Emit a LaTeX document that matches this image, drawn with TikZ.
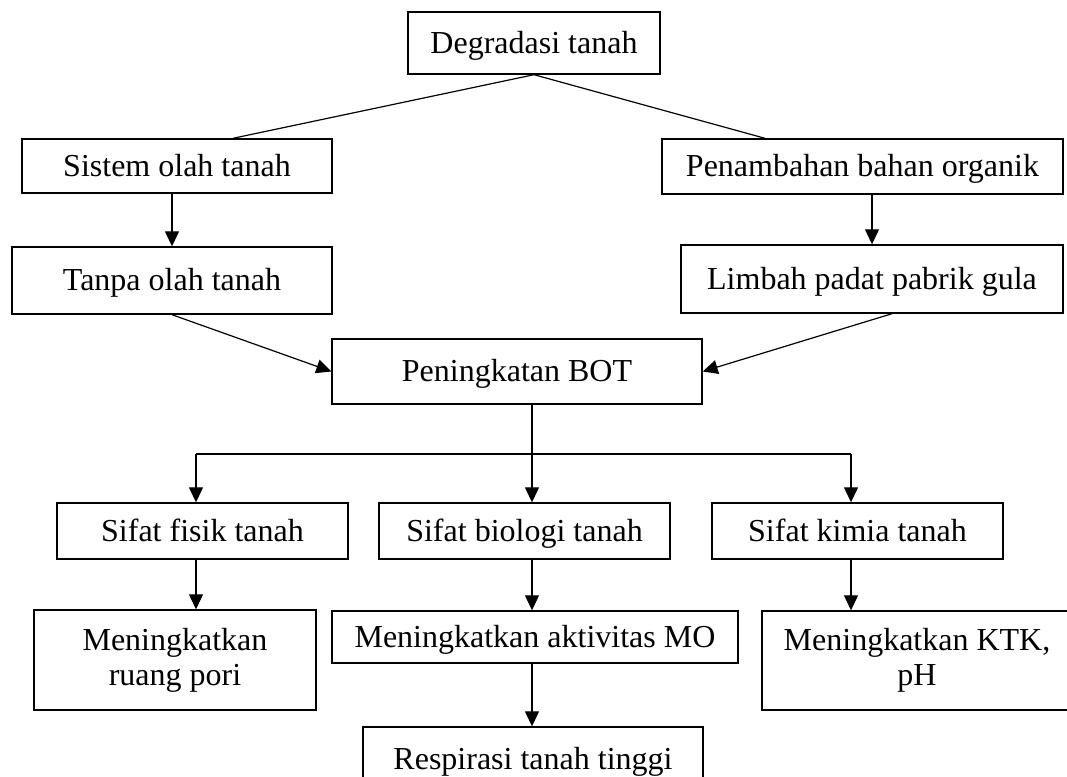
\documentclass[tikz,border=0pt]{standalone}
\usepackage{fontspec}
\setmainfont{Liberation Serif}
\usepackage{tikz}
\usetikzlibrary{arrows.meta,positioning,calc}

\begin{document}
\begin{tikzpicture}[
  x=1pt,y=-1pt,
  boxstyle/.style={rectangle,draw,line width=1.4pt,inner sep=0pt,anchor=center,font={\fontsize{32}{35}\selectfont},text height=22pt,text depth=2pt},
  twostyle/.style={rectangle,draw,line width=1.4pt,inner sep=0pt,anchor=center,font={\fontsize{32}{35}\selectfont},align=center},
  linestyle/.style={line width=1.2pt},
  arrstyle/.style={line width=1.2pt,-{Triangle[length=15pt,width=14pt]}}
]
\useasboundingbox (0,0) rectangle (1067,776) ;
\clip (0,0) rectangle (1067,776) ;

\node [boxstyle,minimum width=252pt,minimum height=62pt] (deg) at (534,43) {Degradasi tanah} ;
\node [boxstyle,minimum width=310pt,minimum height=54pt] (sistem) at (177,166) {Sistem olah tanah} ;
\node [boxstyle,minimum width=320pt,minimum height=67pt] (tanpa) at (172,280.5) {Tanpa olah tanah} ;
\node [boxstyle,minimum width=401pt,minimum height=55pt] (tambah) at (862.5,166.5) {Penambahan bahan organik} ;
\node [boxstyle,minimum width=382pt,minimum height=68pt] (limbah) at (872,279) {Limbah padat pabrik gula} ;
\node [boxstyle,minimum width=370pt,minimum height=65pt] (bot) at (517,371.5) {Peningkatan BOT} ;

\node [boxstyle,minimum width=291pt,minimum height=56pt] (fisik) at (202.5,531) {Sifat fisik tanah} ;
\node [boxstyle,minimum width=291pt,minimum height=56pt] (biologi) at (524.5,531) {Sifat biologi tanah} ;
\node [boxstyle,minimum width=291pt,minimum height=56pt] (kimia) at (857.5,531) {Sifat kimia tanah} ;

\node [twostyle,minimum width=282pt,minimum height=100pt] (pori) at (175,660) {Meningkatkan\\ruang pori} ;
\node [boxstyle,minimum width=406pt,minimum height=52pt] (mo) at (535,637) {Meningkatkan aktivitas MO} ;
\node [twostyle,minimum width=310pt,minimum height=99pt] (ktk) at (917,660.5) {Meningkatkan KTK,\\pH} ;
\node [boxstyle,minimum width=340pt,minimum height=65pt] (resp) at (533,759.5) {Respirasi tanah tinggi} ;

\coordinate (split) at (532,454) ;
\coordinate (hl) at (196,454) ;
\coordinate (hr) at (851,454) ;

\draw [linestyle] (deg.south) -- ($(sistem.north)+(56,0)$) ;
\draw [linestyle] (deg.south) -- ($(tambah.north)+(-97.5,0)$) ;
\draw [arrstyle] (sistem.south -| tanpa.north) -- (tanpa.north) ;
\draw [arrstyle] (tambah.south -| limbah.north) -- (limbah.north) ;
\draw [arrstyle] (tanpa.south) -- (bot.west) ;
\draw [arrstyle] ($(limbah.south)+(20,0)$) -- (bot.east) ;

\draw [linestyle] (split |- bot.south) -- (split) ;
\draw [linestyle] (hl) -- (hr) ;
\draw [arrstyle] (hl) -- (hl |- fisik.north) ;
\draw [arrstyle] (split) -- (split |- biologi.north) ;
\draw [arrstyle] (hr) -- (hr |- kimia.north) ;

\draw [arrstyle] (hl |- fisik.south) -- (hl |- pori.north) ;
\draw [arrstyle] (split |- biologi.south) -- (split |- mo.north) ;
\draw [arrstyle] (hr |- kimia.south) -- (hr |- ktk.north) ;
\draw [arrstyle] (split |- mo.south) -- (split |- resp.north) ;

\end{tikzpicture}
\end{document}
